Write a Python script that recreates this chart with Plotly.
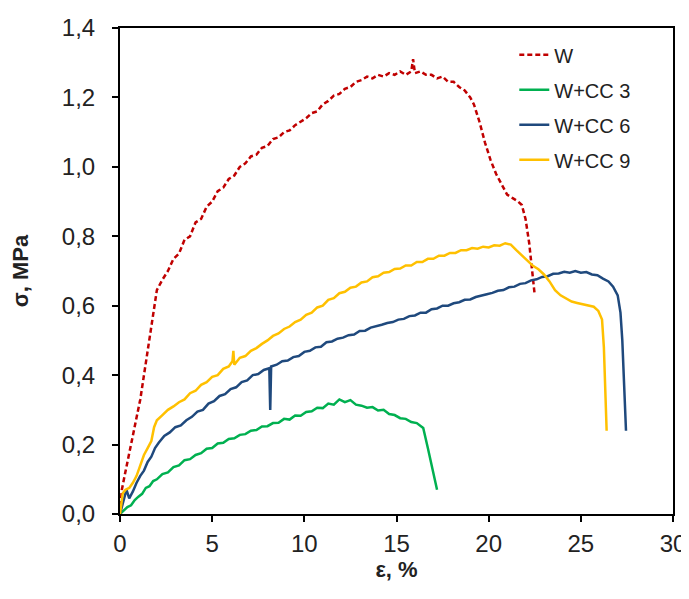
import plotly.graph_objects as go

# strain, % / stress, MPa
W_X = [0, 0.1, 0.25, 0.4, 0.55, 0.7, 0.9, 1.1, 1.3, 1.5, 1.7, 1.9, 2.0, 2.3, 2.6, 2.9, 3.2, 3.5, 3.8,
       4.1, 4.4, 4.7, 5.0, 5.3, 5.6, 5.9, 6.2, 6.5, 6.8, 7.1, 7.4, 7.7, 8.0, 8.3, 8.6, 8.9, 9.2, 9.5,
       9.8, 10.1, 10.4, 10.7, 11.0, 11.3, 11.6, 11.9, 12.2, 12.5, 12.8, 13.1, 13.4, 13.7, 14.0, 14.3,
       14.6, 14.9, 15.2, 15.5, 15.8, 15.9, 16.0, 16.3, 16.6, 16.9, 17.2, 17.5, 17.8, 18.1, 18.4, 18.7,
       19.0, 19.2, 19.5, 19.8, 20.1, 20.4, 20.7, 21.0, 21.3, 21.6, 21.8, 22.0, 22.2, 22.4, 22.5]
W_Y = [0.0, 0.07, 0.11, 0.15, 0.19, 0.23, 0.28, 0.33, 0.40, 0.47, 0.55, 0.61, 0.645, 0.675, 0.70, 0.735,
       0.75, 0.79, 0.80, 0.84, 0.85, 0.885, 0.90, 0.93, 0.94, 0.965, 0.975, 1.0, 1.01, 1.03, 1.035, 1.055,
       1.06, 1.08, 1.085, 1.10, 1.105, 1.12, 1.13, 1.14, 1.155, 1.16, 1.18, 1.19, 1.205, 1.21, 1.225,
       1.23, 1.245, 1.25, 1.26, 1.255, 1.265, 1.26, 1.27, 1.265, 1.275, 1.265, 1.275, 1.31, 1.27, 1.275,
       1.265, 1.265, 1.255, 1.26, 1.245, 1.245, 1.23, 1.22, 1.20, 1.18, 1.13, 1.07, 1.02, 0.98, 0.95,
       0.92, 0.91, 0.90, 0.89, 0.85, 0.78, 0.69, 0.63]

CC3_X = [0, 0.2, 0.4, 0.6, 0.8, 1.0, 1.2, 1.4, 1.6, 1.8, 2.0, 2.3, 2.6, 2.9, 3.2, 3.5, 3.8, 4.1, 4.4,
         4.7, 5.0, 5.3, 5.6, 5.9, 6.2, 6.5, 6.8, 7.1, 7.4, 7.7, 8.0, 8.3, 8.6, 8.9, 9.2, 9.5, 9.8, 10.1,
         10.4, 10.7, 11.0, 11.3, 11.6, 11.9, 12.2, 12.5, 12.8, 13.1, 13.4, 13.7, 14.0, 14.3, 14.6, 14.9,
         15.2, 15.5, 15.8, 16.1, 16.45, 16.7, 16.9, 17.05, 17.2]
CC3_Y = [0.0, 0.01, 0.02, 0.025, 0.04, 0.05, 0.058, 0.075, 0.08, 0.095, 0.10, 0.115, 0.12, 0.135, 0.14,
         0.155, 0.158, 0.17, 0.175, 0.188, 0.19, 0.203, 0.205, 0.216, 0.218, 0.228, 0.23, 0.24, 0.242,
         0.252, 0.253, 0.262, 0.263, 0.274, 0.272, 0.284, 0.283, 0.294, 0.296, 0.306, 0.305, 0.318, 0.315,
         0.33, 0.322, 0.328, 0.315, 0.312, 0.306, 0.308, 0.298, 0.30, 0.288, 0.285, 0.276, 0.274, 0.265,
         0.262, 0.248, 0.19, 0.14, 0.10, 0.07]

CC6_X = [0, 0.2, 0.35, 0.5, 0.7, 0.9, 1.1, 1.3, 1.5, 1.7, 1.9, 2.1, 2.4, 2.7, 3.0, 3.3, 3.6, 3.9, 4.2,
         4.5, 4.8, 5.1, 5.4, 5.7, 6.0, 6.3, 6.6, 6.9, 7.2, 7.5, 7.8, 8.1, 8.15, 8.2, 8.5, 8.8, 9.1, 9.4,
         9.7, 10.0, 10.3, 10.6, 10.9, 11.2, 11.5, 11.8, 12.1, 12.4, 12.7, 13.0, 13.3, 13.6, 13.9, 14.2,
         14.5, 14.8, 15.1, 15.4, 15.7, 16.0, 16.3, 16.6, 16.9, 17.2, 17.5, 17.8, 18.1, 18.4, 18.7, 19.0,
         19.3, 19.6, 19.9, 20.2, 20.5, 20.8, 21.1, 21.4, 21.7, 22.0, 22.3, 22.6, 22.9, 23.2, 23.5, 23.8,
         24.1, 24.4, 24.7, 25.0, 25.3, 25.6, 25.9, 26.2, 26.5, 26.75, 27.0, 27.15, 27.25, 27.35, 27.45]
CC6_Y = [0.0, 0.04, 0.07, 0.045, 0.065, 0.09, 0.11, 0.125, 0.15, 0.165, 0.19, 0.205, 0.225, 0.235, 0.25,
         0.255, 0.27, 0.28, 0.295, 0.30, 0.318, 0.325, 0.34, 0.345, 0.36, 0.365, 0.38, 0.385, 0.40, 0.403,
         0.415, 0.42, 0.30, 0.425, 0.43, 0.44, 0.442, 0.452, 0.455, 0.467, 0.47, 0.48, 0.482, 0.495, 0.497,
         0.505, 0.508, 0.515, 0.517, 0.527, 0.528, 0.537, 0.54, 0.545, 0.55, 0.553, 0.56, 0.562, 0.57,
         0.572, 0.58, 0.58, 0.59, 0.592, 0.60, 0.60, 0.607, 0.61, 0.617, 0.618, 0.625, 0.628, 0.633, 0.637,
         0.643, 0.645, 0.653, 0.655, 0.663, 0.665, 0.673, 0.676, 0.683, 0.685, 0.692, 0.693, 0.698, 0.695,
         0.70, 0.695, 0.697, 0.69, 0.688, 0.678, 0.67, 0.655, 0.63, 0.58, 0.50, 0.37, 0.24]

CC9_X = [0, 0.15, 0.3, 0.5, 0.7, 0.9, 1.1, 1.3, 1.5, 1.7, 1.85, 2.0, 2.3, 2.6, 2.9, 3.2, 3.5, 3.8, 4.1,
         4.4, 4.7, 5.0, 5.3, 5.6, 5.9, 6.1, 6.15, 6.2, 6.5, 6.8, 7.1, 7.4, 7.7, 8.0, 8.3, 8.6, 8.9, 9.2,
         9.5, 9.8, 10.1, 10.4, 10.7, 11.0, 11.3, 11.6, 11.9, 12.2, 12.5, 12.8, 13.1, 13.4, 13.7, 14.0,
         14.3, 14.6, 14.9, 15.2, 15.5, 15.8, 16.1, 16.4, 16.7, 17.0, 17.3, 17.6, 17.9, 18.2, 18.5, 18.8,
         19.1, 19.4, 19.7, 20.0, 20.3, 20.6, 20.9, 21.2, 21.5, 21.8, 22.1, 22.4, 22.7, 23.0, 23.3, 23.6,
         23.9, 24.2, 24.5, 24.8, 25.1, 25.4, 25.7, 25.95, 26.15, 26.25, 26.35, 26.4]
CC9_Y = [0.0, 0.06, 0.07, 0.075, 0.09, 0.11, 0.14, 0.17, 0.19, 0.21, 0.25, 0.27, 0.285, 0.30, 0.31,
         0.322, 0.33, 0.348, 0.355, 0.372, 0.38, 0.395, 0.40, 0.418, 0.425, 0.44, 0.47, 0.43, 0.45, 0.455,
         0.47, 0.478, 0.49, 0.50, 0.513, 0.52, 0.533, 0.54, 0.553, 0.56, 0.574, 0.58, 0.595, 0.60, 0.617,
         0.622, 0.636, 0.64, 0.652, 0.655, 0.667, 0.67, 0.682, 0.685, 0.695, 0.697, 0.706, 0.707, 0.716,
         0.716, 0.726, 0.726, 0.735, 0.735, 0.744, 0.744, 0.752, 0.752, 0.76, 0.76, 0.766, 0.764, 0.77,
         0.768, 0.774, 0.773, 0.78, 0.776, 0.76, 0.745, 0.73, 0.715, 0.705, 0.69, 0.67, 0.645, 0.63, 0.62,
         0.612, 0.608, 0.605, 0.60, 0.597, 0.585, 0.56, 0.48, 0.35, 0.24]

SERIES = [
    ("W", W_X, W_Y, "#c00000", "5px,3px"),
    ("W+CC 3", CC3_X, CC3_Y, "#00b050", "solid"),
    ("W+CC 6", CC6_X, CC6_Y, "#1f497d", "solid"),
    ("W+CC 9", CC9_X, CC9_Y, "#ffc000", "solid"),
]

FONT = "Liberation Sans, Arial, sans-serif"

fig = go.Figure()
for name, xs, ys, color, dash in SERIES:
    fig.add_trace(go.Scatter(x=xs, y=ys, mode="lines", name=name, legendgroup=name,
                             line=dict(color=color, width=2.5, dash=dash)))

axis_style = dict(showgrid=False, zeroline=False, showline=True, linecolor="black", linewidth=2,
                  mirror=True, ticks="outside", ticklen=6, tickwidth=2, tickcolor="black",
                  automargin=False, ticklabeloverflow="allow",
                  tickfont=dict(family=FONT, size=24, color="#222"))

# the page body adds an 8px margin, so the figure sits 8px in from the window corner
fig.update_layout(
    width=681, height=583,
    template="simple_white",
    separators=",.",
    plot_bgcolor="white",
    paper_bgcolor="white",
    margin=dict(l=112, r=16, t=20, b=77),
    xaxis=dict(range=[0, 30], dtick=5, ticklabelstandoff=1, **axis_style,
               title=dict(text="<b>ε, %</b>", font=dict(family=FONT, size=22, color="#222"), standoff=6)),
    yaxis=dict(range=[0, 1.4], dtick=0.2, tickformat=".1f", ticklabelstandoff=12, **axis_style,
               title=dict(text="<b>σ, MPa</b>", font=dict(family=FONT, size=22, color="#222"), standoff=33)),
    legend=dict(x=0.713, y=0.985, xanchor="left", yanchor="top", bgcolor="rgba(0,0,0,0)",
                font=dict(family=FONT, size=20, color="#222"), tracegroupgap=6),
    showlegend=True,
)

fig.write_html("out.html")
